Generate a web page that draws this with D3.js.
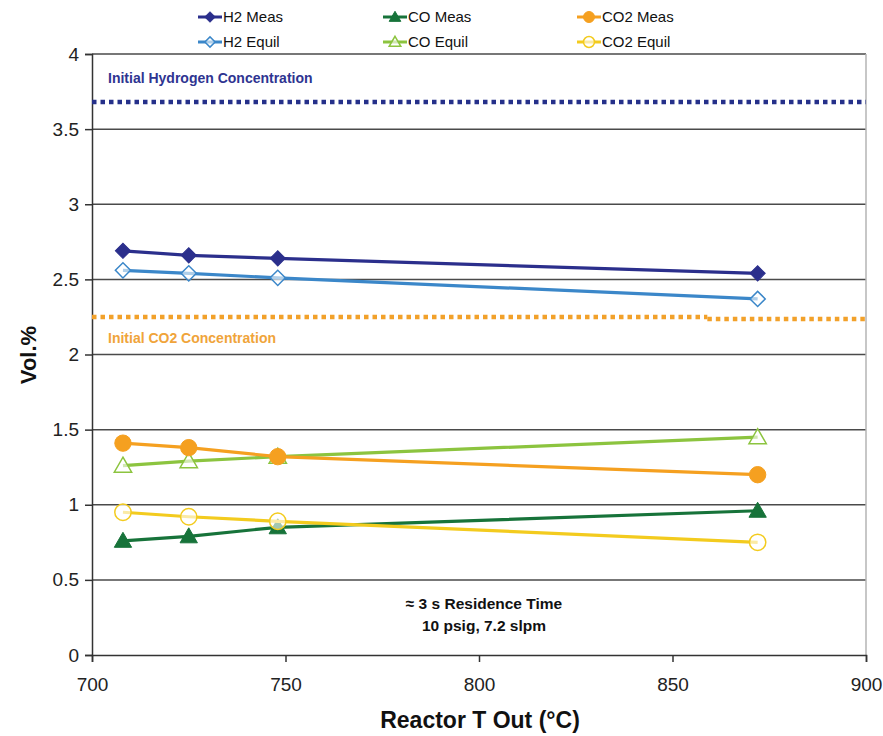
<!DOCTYPE html>
<html>
<head>
<meta charset="utf-8">
<script src="https://cdn.jsdelivr.net/npm/d3@7"></script>
<style>
  body { margin: 0; background: #fff; }
  svg { display: block; font-family: "Liberation Sans", Arial, sans-serif; }
</style>
</head>
<body>
<svg id="chart" width="883" height="736"></svg>
<script>
// Reactor outlet temperatures (°C)
const temps = [708, 725, 748, 872];

// Measured and equilibrium gas concentrations (vol.%)
const h2Meas   = [2.69, 2.66, 2.64, 2.54];
const h2Equil  = [2.56, 2.54, 2.51, 2.37];
const coMeas   = [0.76, 0.79, 0.85, 0.96];
const coEquil  = [1.26, 1.29, 1.32, 1.45];
const co2Meas  = [1.41, 1.38, 1.32, 1.20];
const co2Equil = [0.95, 0.92, 0.89, 0.75];

// Feed (initial) concentrations shown as dotted reference lines
const initH2  = [[700, 3.68], [900, 3.68]];
const initCO2a = [[700, 2.25], [859, 2.25]];
const initCO2b = [[859, 2.237], [900, 2.237]];

const xTicks = [700, 750, 800, 850, 900];
const yTicks = [0, 0.5, 1, 1.5, 2, 2.5, 3, 3.5, 4];

const series = [
  { name: "H2 Meas",   values: h2Meas,   color: "#2b2f8c", shape: "diamond",  filled: true },
  { name: "H2 Equil",  values: h2Equil,  color: "#3b87c9", shape: "diamond",  filled: false },
  { name: "CO Meas",   values: coMeas,   color: "#17733a", shape: "triangle", filled: true },
  { name: "CO Equil",  values: coEquil,  color: "#8cc43f", shape: "triangle", filled: false },
  { name: "CO2 Meas",  values: co2Meas,  color: "#f5a020", shape: "circle",   filled: true },
  { name: "CO2 Equil", values: co2Equil, color: "#f3cb1e", shape: "circle",   filled: false }
];

const svg = d3.select("#chart");
const m = { left: 92, right: 866, top: 54, bottom: 655 };

const x = d3.scaleLinear().domain([700, 900]).range([m.left, m.right]);
const y = d3.scaleLinear().domain([0, 4]).range([m.bottom, m.top]);

// Horizontal gridlines
svg.append("g")
  .selectAll("line")
  .data(yTicks.filter(d => d > 0))
  .join("line")
  .attr("x1", m.left).attr("x2", m.right)
  .attr("y1", d => y(d)).attr("y2", d => y(d))
  .attr("stroke", "#4a4a4a").attr("stroke-width", 1.5);

// Right frame edge
svg.append("line")
  .attr("x1", m.right).attr("x2", m.right)
  .attr("y1", m.top).attr("y2", m.bottom)
  .attr("stroke", "#b5b5b5").attr("stroke-width", 1.5);

// Y axis
const yAxis = svg.append("g")
  .attr("transform", `translate(${m.left},0)`)
  .call(d3.axisLeft(y).tickValues(yTicks).tickFormat(d3.format("")).tickSize(7).tickPadding(6));
yAxis.select(".domain").attr("stroke", "#333").attr("stroke-width", 1.5);
yAxis.selectAll(".tick line").attr("stroke", "#333").attr("stroke-width", 1.5);
yAxis.selectAll("text").attr("font-size", 19).attr("fill", "#222")
  .attr("font-family", "Liberation Sans, Arial, sans-serif");

// X axis
const xAxis = svg.append("g")
  .attr("transform", `translate(0,${m.bottom})`)
  .call(d3.axisBottom(x).tickValues(xTicks).tickSize(7).tickPadding(16));
xAxis.select(".domain").attr("stroke", "#333").attr("stroke-width", 1.5);
xAxis.selectAll(".tick line").attr("stroke", "#333").attr("stroke-width", 1.5);
xAxis.selectAll("text").attr("font-size", 19).attr("fill", "#222")
  .attr("font-family", "Liberation Sans, Arial, sans-serif");

// Axis titles
svg.append("text")
  .attr("x", 480).attr("y", 728)
  .attr("text-anchor", "middle")
  .attr("font-size", 23).attr("font-weight", "bold").attr("fill", "#111")
  .text("Reactor T Out (°C)");

svg.append("text")
  .attr("transform", "translate(36,355) rotate(-90)")
  .attr("text-anchor", "middle")
  .attr("font-size", 22).attr("font-weight", "bold").attr("fill", "#111")
  .text("Vol.%");

// Initial concentration reference lines
const refLine = d3.line().x(d => x(d[0])).y(d => y(d[1]));
svg.append("path").datum(initH2)
  .attr("d", refLine).attr("fill", "none")
  .attr("stroke", "#25308a").attr("stroke-width", 4.5).attr("stroke-dasharray", "4.5,4");
[initCO2a, initCO2b].forEach(seg => {
  svg.append("path").datum(seg)
    .attr("d", refLine).attr("fill", "none")
    .attr("stroke", "#f2a12a").attr("stroke-width", 4.5).attr("stroke-dasharray", "4.5,4");
});

svg.append("text")
  .attr("x", 108).attr("y", 83)
  .attr("font-size", 14).attr("font-weight", "bold").attr("fill", "#2e3491")
  .text("Initial Hydrogen Concentration");

svg.append("text")
  .attr("x", 108).attr("y", 343)
  .attr("font-size", 14).attr("font-weight", "bold").attr("fill", "#f0a43a")
  .text("Initial CO2 Concentration");

// Conditions annotation
svg.append("text")
  .attr("x", 484).attr("y", 609)
  .attr("text-anchor", "middle")
  .attr("font-size", 15.5).attr("font-weight", "bold").attr("fill", "#111")
  .text("≈ 3 s Residence Time");
svg.append("text")
  .attr("x", 484).attr("y", 631)
  .attr("text-anchor", "middle")
  .attr("font-size", 15.5).attr("font-weight", "bold").attr("fill", "#111")
  .text("10 psig, 7.2 slpm");

// Marker shapes
function drawMarker(g, s, cx, cy, scale) {
  const gen = d3.symbol()
    .type(s.shape === "diamond" ? d3.symbolSquare : s.shape === "triangle" ? d3.symbolTriangle : d3.symbolCircle)
    .size((s.shape === "diamond" ? 115 : s.shape === "triangle" ? 130 : 210) * scale);
  const rot = s.shape === "diamond" ? " rotate(45)" : "";
  const dy = s.shape === "triangle" ? 1.5 * Math.sqrt(scale) : 0;
  g.append("path")
    .attr("d", gen())
    .attr("transform", `translate(${cx},${cy + dy})${rot}`)
    .attr("fill", s.filled ? s.color : "#fff")
    .attr("fill-opacity", s.filled ? 1 : 0.6)
    .attr("stroke", s.color)
    .attr("stroke-width", s.filled ? 1 : 1.5);
}

// Series lines and markers
const line = d3.line().x(d => x(d.t)).y(d => y(d.v));
const drawOrder = [3, 2, 4, 5, 1, 0];
drawOrder.forEach(i => {
  const s = series[i];
  const pts = temps.map((t, k) => ({ t, v: s.values[k] }));
  const g = svg.append("g");
  g.append("path").datum(pts)
    .attr("d", line).attr("fill", "none")
    .attr("stroke", s.color).attr("stroke-width", 3.2);
  pts.forEach(p => drawMarker(g, s, x(p.t), y(p.v), 1));
});

// Legend
const legendCols = [198, 383, 577];
const legendRows = [17, 42];
const legendOrder = [[0, 2, 4], [1, 3, 5]];
legendOrder.forEach((row, r) => {
  row.forEach((si, c) => {
    const s = series[si];
    const lx = legendCols[c], ly = legendRows[r];
    const g = svg.append("g");
    g.append("line")
      .attr("x1", lx).attr("x2", lx + 24)
      .attr("y1", ly).attr("y2", ly)
      .attr("stroke", s.color).attr("stroke-width", 3);
    drawMarker(g, s, lx + 12, ly, 0.45);
    g.append("text")
      .attr("x", lx + 25).attr("y", ly + 5)
      .attr("font-size", 15).attr("fill", "#111")
      .text(s.name);
  });
});
</script>
</body>
</html>
